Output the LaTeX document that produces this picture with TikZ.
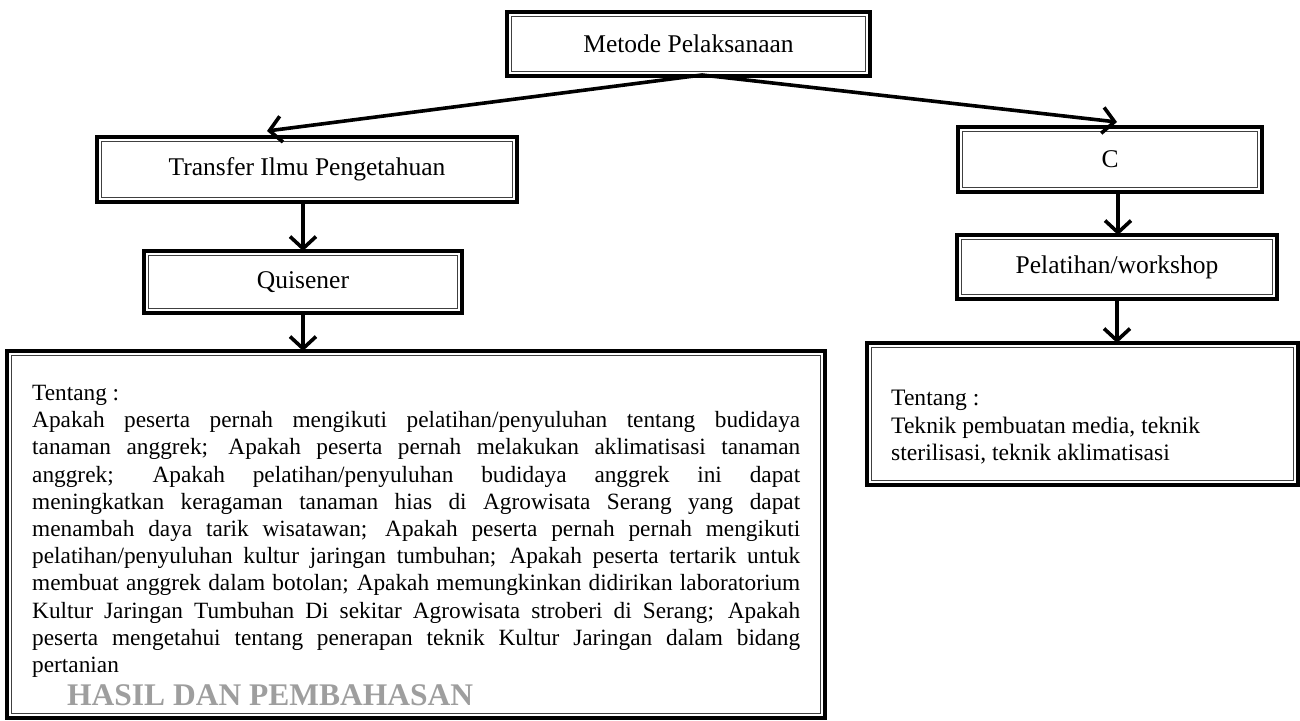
\documentclass[tikz,border=0pt]{standalone}
\usepackage{fontspec}
\setmainfont{Liberation Serif}
\usetikzlibrary{arrows.meta,calc}
\newlength{\jlw}
\setlength{\jlw}{768pt}
\newcommand{\jl}[1]{\makebox[\jlw][s]{#1}}
\begin{document}
\begin{tikzpicture}[x=1pt,y=-1pt,
  dbox/.style n args={2}{draw=black, line width=3.6pt, fill=white,
    minimum width=#1, minimum height=#2, inner sep=0pt, outer sep=0pt,
    font=\fontsize{25.5}{30}\selectfont},
  arr/.style={line width=3.6pt, -{Straight Barb[length=12pt,width=26pt]}},
  body/.style={anchor=north west, inner sep=0pt, align=left,
    font=\fontsize{23.3}{27.2}\selectfont}]
\useasboundingbox (0,0) rectangle (1300,720);
% boxes
\node[dbox={363pt}{64pt}] (top) at (688.5,44) {Metode Pelaksanaan};
\node[dbox={420pt}{65pt}] (trf) at (307,169.5) {Transfer Ilmu Pengetahuan};
\node[dbox={318pt}{62pt}] (qui) at (303,282) {Quisener};
\node[dbox={818pt}{367pt}] (big) at (416,534.5) {};
\node[dbox={304pt}{65pt}] (cbox) at (1110,159.5) {C};
\node[dbox={320pt}{64pt}] (pel) at (1117,267) {Pelatihan/workshop};
\node[dbox={431pt}{142pt}] (rbox) at (1082.5,414) {};
\foreach \n in {top,trf,qui,big,cbox,pel,rbox}
  \draw[line width=1.1pt, black!75] ([xshift=4.6pt,yshift=-4.6pt]\n.north west)
    rectangle ([xshift=-4.6pt,yshift=4.6pt]\n.south east);
% texts
\node[body] (bigtext) at (32,385) {Tentang :\\
\jl{Apakah peserta pernah mengikuti pelatihan/penyuluhan tentang budidaya}\\
\jl{tanaman anggrek; Apakah peserta pernah melakukan aklimatisasi tanaman}\\
\jl{anggrek; Apakah pelatihan/penyuluhan budidaya anggrek ini dapat}\\
\jl{meningkatkan keragaman tanaman hias di Agrowisata Serang yang dapat}\\
\jl{menambah daya tarik wisatawan; Apakah peserta pernah pernah mengikuti}\\
\jl{pelatihan/penyuluhan kultur jaringan tumbuhan; Apakah peserta tertarik untuk}\\
\jl{membuat anggrek dalam botolan; Apakah memungkinkan didirikan laboratorium}\\
\jl{Kultur Jaringan Tumbuhan Di sekitar Agrowisata stroberi di Serang; Apakah}\\
\jl{peserta mengetahui tentang penerapan teknik Kultur Jaringan dalam bidang}\\
pertanian};
\node[anchor=west, inner sep=0pt, text=black!38, font=\fontsize{31.5}{36}\selectfont\bfseries] (hasil) at (67,695) {HASIL DAN PEMBAHASAN};
\node[body, font=\fontsize{23.6}{27.6}\selectfont] (rtext) at (891,390) {Tentang :\\Teknik pembuatan media, teknik\\sterilisasi, teknik aklimatisasi};
% connectors
\coordinate (mid) at (702,75);
\coordinate (tipL) at (267,131);
\coordinate (tipR) at (1117,122);
\draw[arr] (mid) -- (tipL);
\draw[arr] (mid) -- (tipR);
\coordinate (xa) at (303,0);
\coordinate (xb) at (303,0);
\coordinate (xc) at (1118,0);
\coordinate (xd) at (1117,0);
\draw[arr] (trf.south -| xa) -- (qui.north -| xa);
\draw[arr] (qui.south -| xb) -- (big.north -| xb);
\draw[arr] (cbox.south -| xc) -- (pel.north -| xc);
\draw[arr] (pel.south -| xd) -- (rbox.north -| xd);
\end{tikzpicture}
\end{document}
